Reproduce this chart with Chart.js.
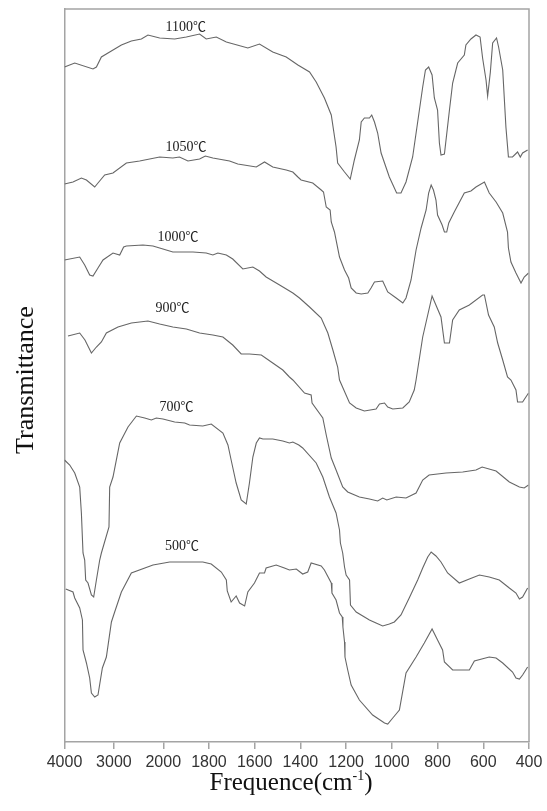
<!DOCTYPE html>
<html>
<head>
<meta charset="utf-8">
<script src="https://cdn.jsdelivr.net/npm/chart.js@4.4.1/dist/chart.umd.min.js"></script>
<style>
  html, body { margin: 0; padding: 0; background: #fff; }
  #wrap { width: 547px; height: 811px; position: relative; }
</style>
</head>
<body>
<div id="wrap"><canvas id="ftir"></canvas></div>
<script>
// Axis ticks (cm-1), the scale changes at 2000
const tickLabels = [4000, 3000, 2000, 1800, 1600, 1400, 1200, 1000, 800, 600, 400];

// Spectra: wavenumber (cm-1) and transmittance (arbitrary, offset per curve)
const wn1100 = [4000,3793,3423,3354,3253,3085,2848,2646,2443,2310,2073,1950,1899,1841,1812,1768,1724,1630,1579,1521,1462,1411,1360,1331,1295,1265,1244,1237,1207,1182,1164,1142,1134,1120,1098,1088,1076,1062,1047,1011,979,960,938,909,887,865,853,839,824,814,800,792,785,770,748,734,712,683,676,654,632,614,603,588,581,569,559,542,533,515,501,490,472,450,438,428,406];
const t1100 = [675,679,673,675,685,690,697,701,703,707,704,703,705,708,703,705,700,694,698,690,685,677,670,660,644,627,595,579,570,563,582,602,620,624,624,627,620,609,589,565,549,549,560,585,620,655,672,675,667,644,632,599,587,588,632,659,679,687,697,703,707,705,684,662,646,670,699,704,695,672,615,585,585,590,585,589,592];

const wn1050 = [4000,3828,3658,3556,3388,3322,3186,3018,2747,2478,2073,1958,1929,1892,1841,1816,1783,1710,1674,1593,1557,1521,1462,1433,1411,1397,1346,1309,1299,1287,1270,1265,1251,1229,1207,1189,1178,1156,1134,1105,1091,1076,1040,1018,981,952,938,916,894,872,850,839,828,818,807,800,780,770,760,751,727,683,654,632,595,574,544,515,494,490,479,457,435,421,402];
const t1050 = [558,560,564,562,555,559,567,569,579,581,585,584,585,581,583,586,584,581,578,575,580,575,572,570,565,562,559,552,550,535,532,520,510,485,472,464,454,449,448,449,454,460,461,450,444,439,444,462,492,514,532,549,557,552,542,527,517,510,510,519,530,549,551,555,560,549,540,529,510,494,480,469,459,465,469];

const wn1000 = [4000,3692,3591,3490,3423,3322,3220,3018,2882,2802,2747,2411,2208,2006,1958,1870,1812,1783,1761,1724,1696,1652,1608,1579,1550,1491,1433,1404,1360,1309,1280,1258,1237,1229,1185,1156,1120,1069,1054,1032,1018,996,952,924,902,894,865,824,785,770,748,734,705,661,603,595,577,552,537,515,494,479,457,450,428,402];
const t1000 = [482,485,477,467,466,474,482,489,487,495,496,497,496,493,490,490,489,487,489,487,483,473,475,471,465,457,449,444,435,424,409,392,375,362,339,334,331,333,338,339,335,333,334,340,352,362,405,446,425,399,399,422,432,437,447,447,427,415,399,382,365,362,352,340,340,349];

const wn900 = [3929,3692,3586,3455,3354,3253,3152,2917,2646,2310,2073,1958,1899,1841,1783,1739,1696,1659,1623,1571,1521,1477,1448,1433,1382,1353,1349,1302,1287,1265,1244,1215,1193,1142,1098,1062,1040,1022,981,938,894,865,837,763,690,632,605,544,486,442,421,402];
const t900 = [406,409,402,389,395,400,409,415,419,421,418,415,413,409,407,405,397,388,388,387,379,372,365,362,349,347,339,324,307,284,272,255,250,245,243,241,244,242,245,244,249,262,267,269,270,272,275,271,260,255,254,257];

const wn700 = [4000,3894,3793,3692,3658,3625,3591,3571,3524,3455,3409,3354,3287,3253,3099,3085,3018,2882,2714,2544,2376,2241,2140,2006,1950,1906,1885,1827,1790,1739,1717,1703,1681,1659,1637,1623,1608,1593,1579,1564,1521,1477,1448,1433,1407,1390,1331,1302,1273,1244,1229,1225,1215,1207,1200,1185,1181,1156,1098,1069,1040,1011,989,960,924,887,865,843,828,807,785,756,705,661,617,574,530,486,457,442,428,406];
const t700 = [282,277,269,255,229,189,182,162,159,147,145,162,182,189,215,255,265,299,315,326,324,322,324,323,320,319,317,316,318,309,297,282,259,242,238,259,285,299,304,303,303,301,299,300,297,294,279,265,245,229,212,199,189,175,167,162,137,130,122,119,116,118,120,127,144,162,174,185,190,186,180,169,159,163,167,165,162,154,149,143,145,154];

const wn500 = [3975,3828,3793,3692,3637,3625,3556,3490,3455,3388,3322,3233,3152,3050,2984,2848,2646,2208,1972,1914,1827,1790,1746,1724,1720,1703,1681,1666,1644,1630,1601,1579,1557,1550,1506,1470,1448,1418,1390,1368,1353,1309,1295,1265,1262,1244,1229,1217,1214,1207,1205,1193,1178,1142,1084,1032,1018,996,967,938,894,858,824,800,778,770,734,661,639,574,544,515,472,457,442,428,406];
const t500 = [153,150,144,134,122,92,79,64,49,45,47,74,85,120,130,150,169,177,180,180,180,178,170,162,151,140,146,139,136,150,159,169,169,174,177,174,172,173,168,170,179,176,172,159,149,142,129,125,115,100,85,72,57,42,27,19,18,24,32,69,85,99,113,102,92,80,72,72,81,85,84,79,70,64,63,67,75];

// Curve labels and where they sit (wavenumber, transmittance)
const curveNames = ['1100℃', '1050℃', '1000℃', '900℃', '700℃', '500℃'];
const labelWn = [1902, 1900, 1935, 1959, 1942, 1918];
const labelT = [716, 596, 506, 435, 336, 197];

// position on the broken axis: 200 cm-1 per unit below 2000, compressed above
function axisPos(wn) {
  return wn <= 2000 ? (wn - 400) / 200 : 8 + (wn - 2000) / 1000 * 1.08;
}

function toPoints(wn, t) {
  return wn.map((w, i) => ({ x: axisPos(w), y: t[i] }));
}

const series = [
  [wn1100, t1100], [wn1050, t1050], [wn1000, t1000],
  [wn900, t900], [wn700, t700], [wn500, t500],
];

const lineColor = '#666';
const frameColor = '#a4a4a4';

// draw a run of text pieces, each with its own font and baseline shift, centred on x
function drawPieces(ctx, pieces, cx, y) {
  let total = 0;
  pieces.forEach(p => { ctx.font = p.font; total += ctx.measureText(p.text).width; });
  let x = cx - total / 2;
  ctx.textAlign = 'left';
  pieces.forEach(p => {
    ctx.font = p.font;
    ctx.fillText(p.text, x, y + (p.dy || 0));
    x += ctx.measureText(p.text).width;
  });
}

// Frame, axis titles and curve labels
const decorations = {
  id: 'decorations',
  afterDraw(chart) {
    const { ctx, chartArea, scales } = chart;
    ctx.save();

    // top and right edges of the frame
    ctx.strokeStyle = frameColor;
    ctx.lineWidth = 1.5;
    ctx.beginPath();
    ctx.moveTo(chartArea.left, chartArea.top);
    ctx.lineTo(chartArea.right, chartArea.top);
    ctx.lineTo(chartArea.right, chartArea.bottom);
    ctx.stroke();

    // curve labels: digits in a serif face, the degree sign from the CJK font
    ctx.fillStyle = '#222';
    ctx.textBaseline = 'alphabetic';
    curveNames.forEach((name, i) => {
      const x = scales.x.getPixelForValue(axisPos(labelWn[i]));
      const y = scales.y.getPixelForValue(labelT[i]) + 5;
      drawPieces(ctx, [
        { text: name.slice(0, -1), font: '14px "Liberation Serif", serif' },
        { text: name.slice(-1), font: '13px "Noto Sans CJK KR"' },
      ], x, y);
    });

    // y title
    ctx.fillStyle = '#111';
    ctx.font = '26px "Liberation Serif", serif';
    ctx.textAlign = 'center';
    ctx.save();
    ctx.translate(33, 380);
    ctx.rotate(-Math.PI / 2);
    ctx.fillText('Transmittance', 0, 0);
    ctx.restore();

    // x title with superscript
    drawPieces(ctx, [
      { text: 'Frequence(cm', font: '25px "Liberation Serif", serif' },
      { text: '-1', font: '14px "Liberation Serif", serif', dy: -10 },
      { text: ')', font: '25px "Liberation Serif", serif' },
    ], 291, 790);
    ctx.restore();
  },
};

new Chart(document.getElementById('ftir'), {
  type: 'line',
  data: {
    datasets: series.map(s => ({
      data: toPoints(s[0], s[1]),
      borderColor: lineColor,
      borderWidth: 1.1,
      pointRadius: 0,
      fill: false,
      tension: 0,
    })),
  },
  options: {
    responsive: true,
    maintainAspectRatio: false,
    animation: false,
    layout: { padding: { top: 9, right: 18, left: 0, bottom: 0 } },
    plugins: {
      legend: { display: false },
      tooltip: { enabled: false },
    },
    scales: {
      x: {
        type: 'linear',
        reverse: true,
        min: 0,
        max: axisPos(4000),
        afterBuildTicks: (scale) => {
          scale.ticks = tickLabels.map(v => ({ value: axisPos(v) }));
        },
        afterFit: (scale) => { scale.height = 69; },
        ticks: {
          autoSkip: false,
          maxRotation: 0,
          padding: 4,
          color: '#333',
          font: { family: 'Liberation Sans', size: 16 },
          callback: (value, index) => tickLabels[index],
        },
        grid: {
          drawOnChartArea: false,
          drawTicks: true,
          tickLength: 7,
          color: frameColor,
          lineWidth: 1.5,
        },
        border: { display: true, color: frameColor, width: 1.5 },
      },
      y: {
        min: 0,
        max: 733,
        afterFit: (scale) => { scale.width = 64.5; },
        ticks: { display: false },
        grid: { display: false },
        border: { display: true, color: frameColor, width: 1.5 },
      },
    },
  },
  plugins: [decorations],
});
</script>
</body>
</html>
